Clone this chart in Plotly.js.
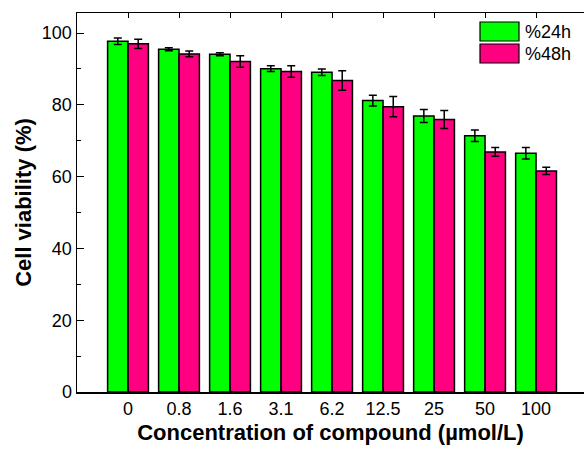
<!DOCTYPE html>
<html>
<head>
<meta charset="utf-8">
<script src="https://cdn.plot.ly/plotly-3.0.1.min.js"></script>
<style>html,body{margin:0;padding:0;background:#fff;}#chart{width:584px;height:450px;}</style>
</head>
<body>
<div id="chart"></div>
<script>
const categories = ["0", "0.8", "1.6", "3.1", "6.2", "12.5", "25", "50", "100"];
const seriesNames = ["%24h", "%48h"];
const viability24h = [97.7, 95.5, 94.1, 90.1, 89.1, 81.2, 76.9, 71.4, 66.5];
const error24h = [0.9, 0.4, 0.4, 0.8, 0.9, 1.5, 1.8, 1.6, 1.6];
const viability48h = [97.0, 94.2, 92.1, 89.3, 86.8, 79.5, 75.9, 66.9, 61.6];
const error48h = [1.3, 0.8, 1.6, 1.6, 2.7, 2.8, 2.5, 1.2, 1.0];
const colors = ["#00FF00", "#FF0080"];

const W = 584, H = 450;
const M = {l: 77, r: 0, t: 13, b: 58};
const pw = W - M.l - M.r, ph = H - M.t - M.b;
const px = v => (v - M.l) / pw;
const py = v => (H - M.b - v) / ph;

const font = "Liberation Sans, Arial, sans-serif";

function bar(name, y, err, color) {
  return {
    type: "bar", name: name, x: categories.map((c, i) => i), y: y,
    marker: {color: color, line: {color: "#000", width: 1.5}},
    error_y: {type: "data", array: err, visible: true, color: "#000", thickness: 1.5, width: 4},
    showlegend: false
  };
}

const data = [
  bar(seriesNames[0], viability24h, error24h, colors[0]),
  bar(seriesNames[1], viability48h, error48h, colors[1])
];

const shapes = [], annotations = [];
seriesNames.forEach((n, i) => {
  const top = 22 + i * 22;
  shapes.push({type: "rect", xref: "paper", yref: "paper",
    x0: px(480), x1: px(519), y0: py(top), y1: py(top + 19),
    fillcolor: colors[i], line: {color: "#000", width: 1.2}});
  annotations.push({xref: "paper", yref: "paper", x: px(523), y: py(top + 10),
    xanchor: "left", yanchor: "middle", showarrow: false, text: n,
    font: {family: font, size: 18, color: "#000"}});
});

const layout = {
  width: W, height: H,
  margin: M,
  paper_bgcolor: "#fff", plot_bgcolor: "#fff",
  barmode: "group", bargap: 0.2, bargroupgap: 0,
  font: {family: font, size: 18, color: "#000"},
  xaxis: {
    range: [-1, 8.94], tickmode: "array", tickvals: categories.map((c, i) => i), ticktext: categories,
    showline: true, linecolor: "#000", linewidth: 1.5, mirror: "ticks",
    ticks: "inside", ticklen: 5, tickwidth: 1, tickcolor: "#000",
    showgrid: false, zeroline: false,
    tickfont: {family: font, size: 18, color: "#000"},
    title: {text: "Concentration of compound (µmol/L)", standoff: 6,
      font: {family: font, size: 22, color: "#000", weight: "bold"}}
  },
  yaxis: {
    range: [0, 105.6], tickmode: "linear", tick0: 0, dtick: 20,
    showline: true, linecolor: "#000", linewidth: 1.5, mirror: false,
    ticks: "inside", ticklen: 7, tickwidth: 1, tickcolor: "#000",
    minor: {dtick: 10, ticks: "inside", ticklen: 4, tickwidth: 1, tickcolor: "#000", showgrid: false},
    showgrid: false, zeroline: false,
    tickfont: {family: font, size: 18, color: "#000"},
    title: {text: "Cell viability (%)", standoff: 4,
      font: {family: font, size: 22, color: "#000", weight: "bold"}}
  },
  shapes: shapes, annotations: annotations,
  showlegend: false
};

Plotly.newPlot("chart", data, layout, {displayModeBar: false, staticPlot: true});
</script>
</body>
</html>
